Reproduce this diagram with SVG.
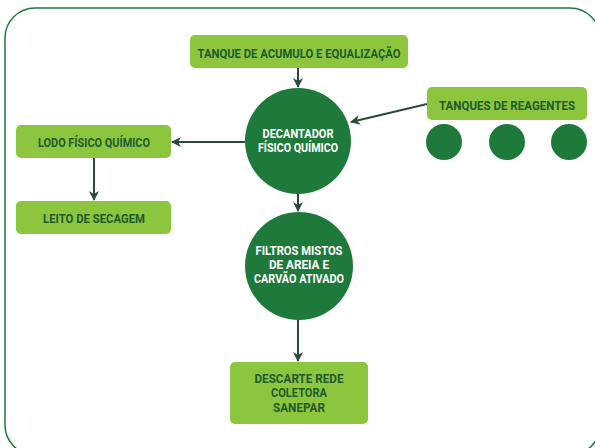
<svg xmlns="http://www.w3.org/2000/svg" width="595" height="448" viewBox="0 0 595 448">
<defs>
<style>
.box{fill:#8cc63f;}
.bt{font-family:Roboto,"Liberation Sans",sans-serif;font-weight:bold;font-size:12.5px;fill:#1f5a2c;text-anchor:middle;}
.ct{font-family:Roboto,"Liberation Sans",sans-serif;font-weight:bold;font-size:12.5px;fill:#ffffff;text-anchor:middle;}
.big{fill:#1e7a3a;}
.conn{stroke:#2c4a38;stroke-width:2;fill:none;marker-end:url(#ah);}
</style>
<marker id="ah" viewBox="0 0 10 10" refX="9" refY="5" markerWidth="5" markerHeight="5" orient="auto" markerUnits="strokeWidth">
<path d="M0,0 L10,5 L0,10 L3,5 Z" fill="#2c4a38"/>
</marker>
</defs>
<rect x="5" y="8" width="595" height="447" rx="30" ry="30" fill="#ffffff" stroke="#1e7a3a" stroke-width="1.5"/>

<g id="connectors">
<line class="conn" x1="298" y1="68" x2="298" y2="87"/>
<line class="conn" x1="427" y1="104" x2="351" y2="122"/>
<line class="conn" x1="245" y1="142" x2="172" y2="142"/>
<line class="conn" x1="94" y1="158" x2="94" y2="200"/>
<line class="conn" x1="298" y1="194" x2="298" y2="211"/>
<line class="conn" x1="298" y1="320" x2="298" y2="361"/>
</g>

<g id="tanque-acumulo">
<rect class="box" x="190" y="35" width="218" height="33" rx="5"/>
<text class="bt" x="299" y="58" textLength="203" lengthAdjust="spacingAndGlyphs">TANQUE DE ACUMULO E EQUALIZAÇÃO</text>
</g>

<g id="decantador">
<circle class="big" cx="298" cy="141" r="53"/>
<text class="ct" x="298" y="138" textLength="71" lengthAdjust="spacingAndGlyphs">DECANTADOR</text>
<text class="ct" x="298" y="152" textLength="80" lengthAdjust="spacingAndGlyphs">FÍSICO QUÍMICO</text>
</g>

<g id="tanques-reagentes">
<rect class="box" x="427" y="87" width="160" height="33" rx="5"/>
<text class="bt" x="507" y="110" textLength="136" lengthAdjust="spacingAndGlyphs">TANQUES DE REAGENTES</text>
<circle class="big" cx="444" cy="142" r="18"/>
<circle class="big" cx="507" cy="142" r="18"/>
<circle class="big" cx="569" cy="142" r="18"/>
</g>

<g id="lodo">
<rect class="box" x="16" y="125" width="155" height="33" rx="5"/>
<text class="bt" x="94" y="147" textLength="112" lengthAdjust="spacingAndGlyphs">LODO FÍSICO QUÍMICO</text>
</g>

<g id="leito">
<rect class="box" x="16" y="201" width="155" height="33" rx="5"/>
<text class="bt" x="94" y="223" textLength="102" lengthAdjust="spacingAndGlyphs">LEITO DE SECAGEM</text>
</g>

<g id="filtros">
<circle class="big" cx="299" cy="266" r="54"/>
<text class="ct" x="299" y="255" textLength="87" lengthAdjust="spacingAndGlyphs">FILTROS MISTOS</text>
<text class="ct" x="299" y="269" textLength="60" lengthAdjust="spacingAndGlyphs">DE AREIA E</text>
<text class="ct" x="299" y="283" textLength="90" lengthAdjust="spacingAndGlyphs">CARVÃO ATIVADO</text>
</g>

<g id="descarte">
<rect class="box" x="230" y="362" width="138" height="62" rx="5"/>
<text class="bt" x="299" y="383" textLength="89" lengthAdjust="spacingAndGlyphs">DESCARTE REDE</text>
<text class="bt" x="299" y="397" textLength="56" lengthAdjust="spacingAndGlyphs">COLETORA</text>
<text class="bt" x="299" y="412" textLength="52" lengthAdjust="spacingAndGlyphs">SANEPAR</text>
</g>
</svg>
